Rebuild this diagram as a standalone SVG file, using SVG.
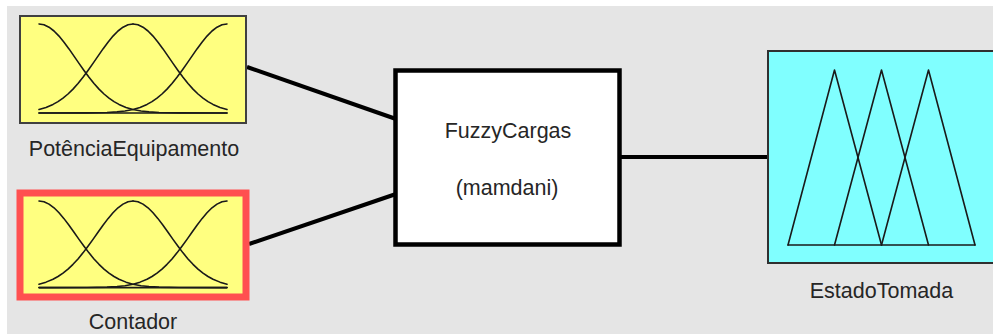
<svg xmlns="http://www.w3.org/2000/svg" xmlns:xlink="http://www.w3.org/1999/xlink" width="993" height="334" viewBox="0 0 993 334">
<style>
.lbl{font-family:"Liberation Sans",Arial,sans-serif;font-size:21.5px;fill:#262626;text-anchor:middle}
.mf{fill:none;stroke:#1a1a1a;stroke-width:1.6;stroke-linejoin:round;stroke-linecap:round}
.conn{stroke:#000;stroke-width:4;stroke-linecap:butt}
</style>
<defs>
<path id="hg" d="M0,0 L5,0.8 L10,3.2 L15,7 L20,12.1 L25,18.15 L30,24.9 L35,32.1 L40,39.4 L45,46.5 L50,53.3 L55,59.5 L60,65.1 L65,70 L70,74.1 L75,77.6 L80,80.4 L87,83.4 L94,85.5 L102,87 L110,87.9 L120,88.5 L140,88.9 L188,89"/>
<path id="hgs" d="M0,0 L5,0.8 L10,3.2 L15,7 L20,12.1 L25,18.15 L30,24.9 L35,32.1 L40,39.4 L45,46.5 L50,53.3 L55,59.5 L60,65.1 L65,70 L70,74.1 L75,77.6 L80,80.4 L87,83.4 L94,85.5"/>
<g id="gauss3">
<use xlink:href="#hg" transform="translate(39,0)"/>
<use xlink:href="#hgs" transform="translate(133,0)"/>
<use xlink:href="#hgs" transform="translate(133,0) scale(-1,1)"/>
<use xlink:href="#hg" transform="translate(227,0) scale(-1,1)"/>
<line x1="39" y1="89" x2="227" y2="89"/>
</g>
</defs>
<rect x="0" y="0" width="993" height="334" fill="#ffffff"/>
<rect x="7" y="6" width="986" height="328" fill="#e5e5e5"/>
<g id="connectors">
<line class="conn" x1="247" y1="67" x2="396" y2="119"/>
<line class="conn" x1="249" y1="244" x2="396" y2="194"/>
<line class="conn" x1="619" y1="157" x2="769" y2="157"/>
</g>
<g id="node-potencia">
<rect x="20" y="16" width="226" height="107" fill="#ffff80" stroke="#404040" stroke-width="2"/>
<g class="mf" transform="translate(0,24)"><use xlink:href="#gauss3"/></g>
<text class="lbl" x="134" y="156">PotênciaEquipamento</text>
</g>
<g id="node-contador">
<rect x="20" y="193" width="226" height="104" fill="#ffff80" stroke="#ff5050" stroke-width="7"/>
<g class="mf" transform="translate(0,201) scale(1,0.973)"><use xlink:href="#gauss3"/></g>
<text class="lbl" x="133" y="329">Contador</text>
</g>
<g id="node-fuzzy">
<rect x="395.5" y="70.5" width="224" height="174" fill="#ffffff" stroke="#000" stroke-width="4.5"/>
<text class="lbl" x="508" y="138">FuzzyCargas</text>
<text class="lbl" x="507" y="195">(mamdani)</text>
</g>
<g id="node-estado">
<rect x="768" y="51" width="227" height="212" fill="#80ffff" stroke="#303030" stroke-width="2"/>
<g class="mf">
<polyline points="788,245 834.5,70 881.5,245"/>
<polyline points="834.5,245 881.5,70 928.5,245"/>
<polyline points="881.5,245 928.5,70 975,245"/>
<line x1="788" y1="245" x2="975" y2="245"/>
</g>
<text class="lbl" x="881.5" y="298">EstadoTomada</text>
</g>
</svg>
